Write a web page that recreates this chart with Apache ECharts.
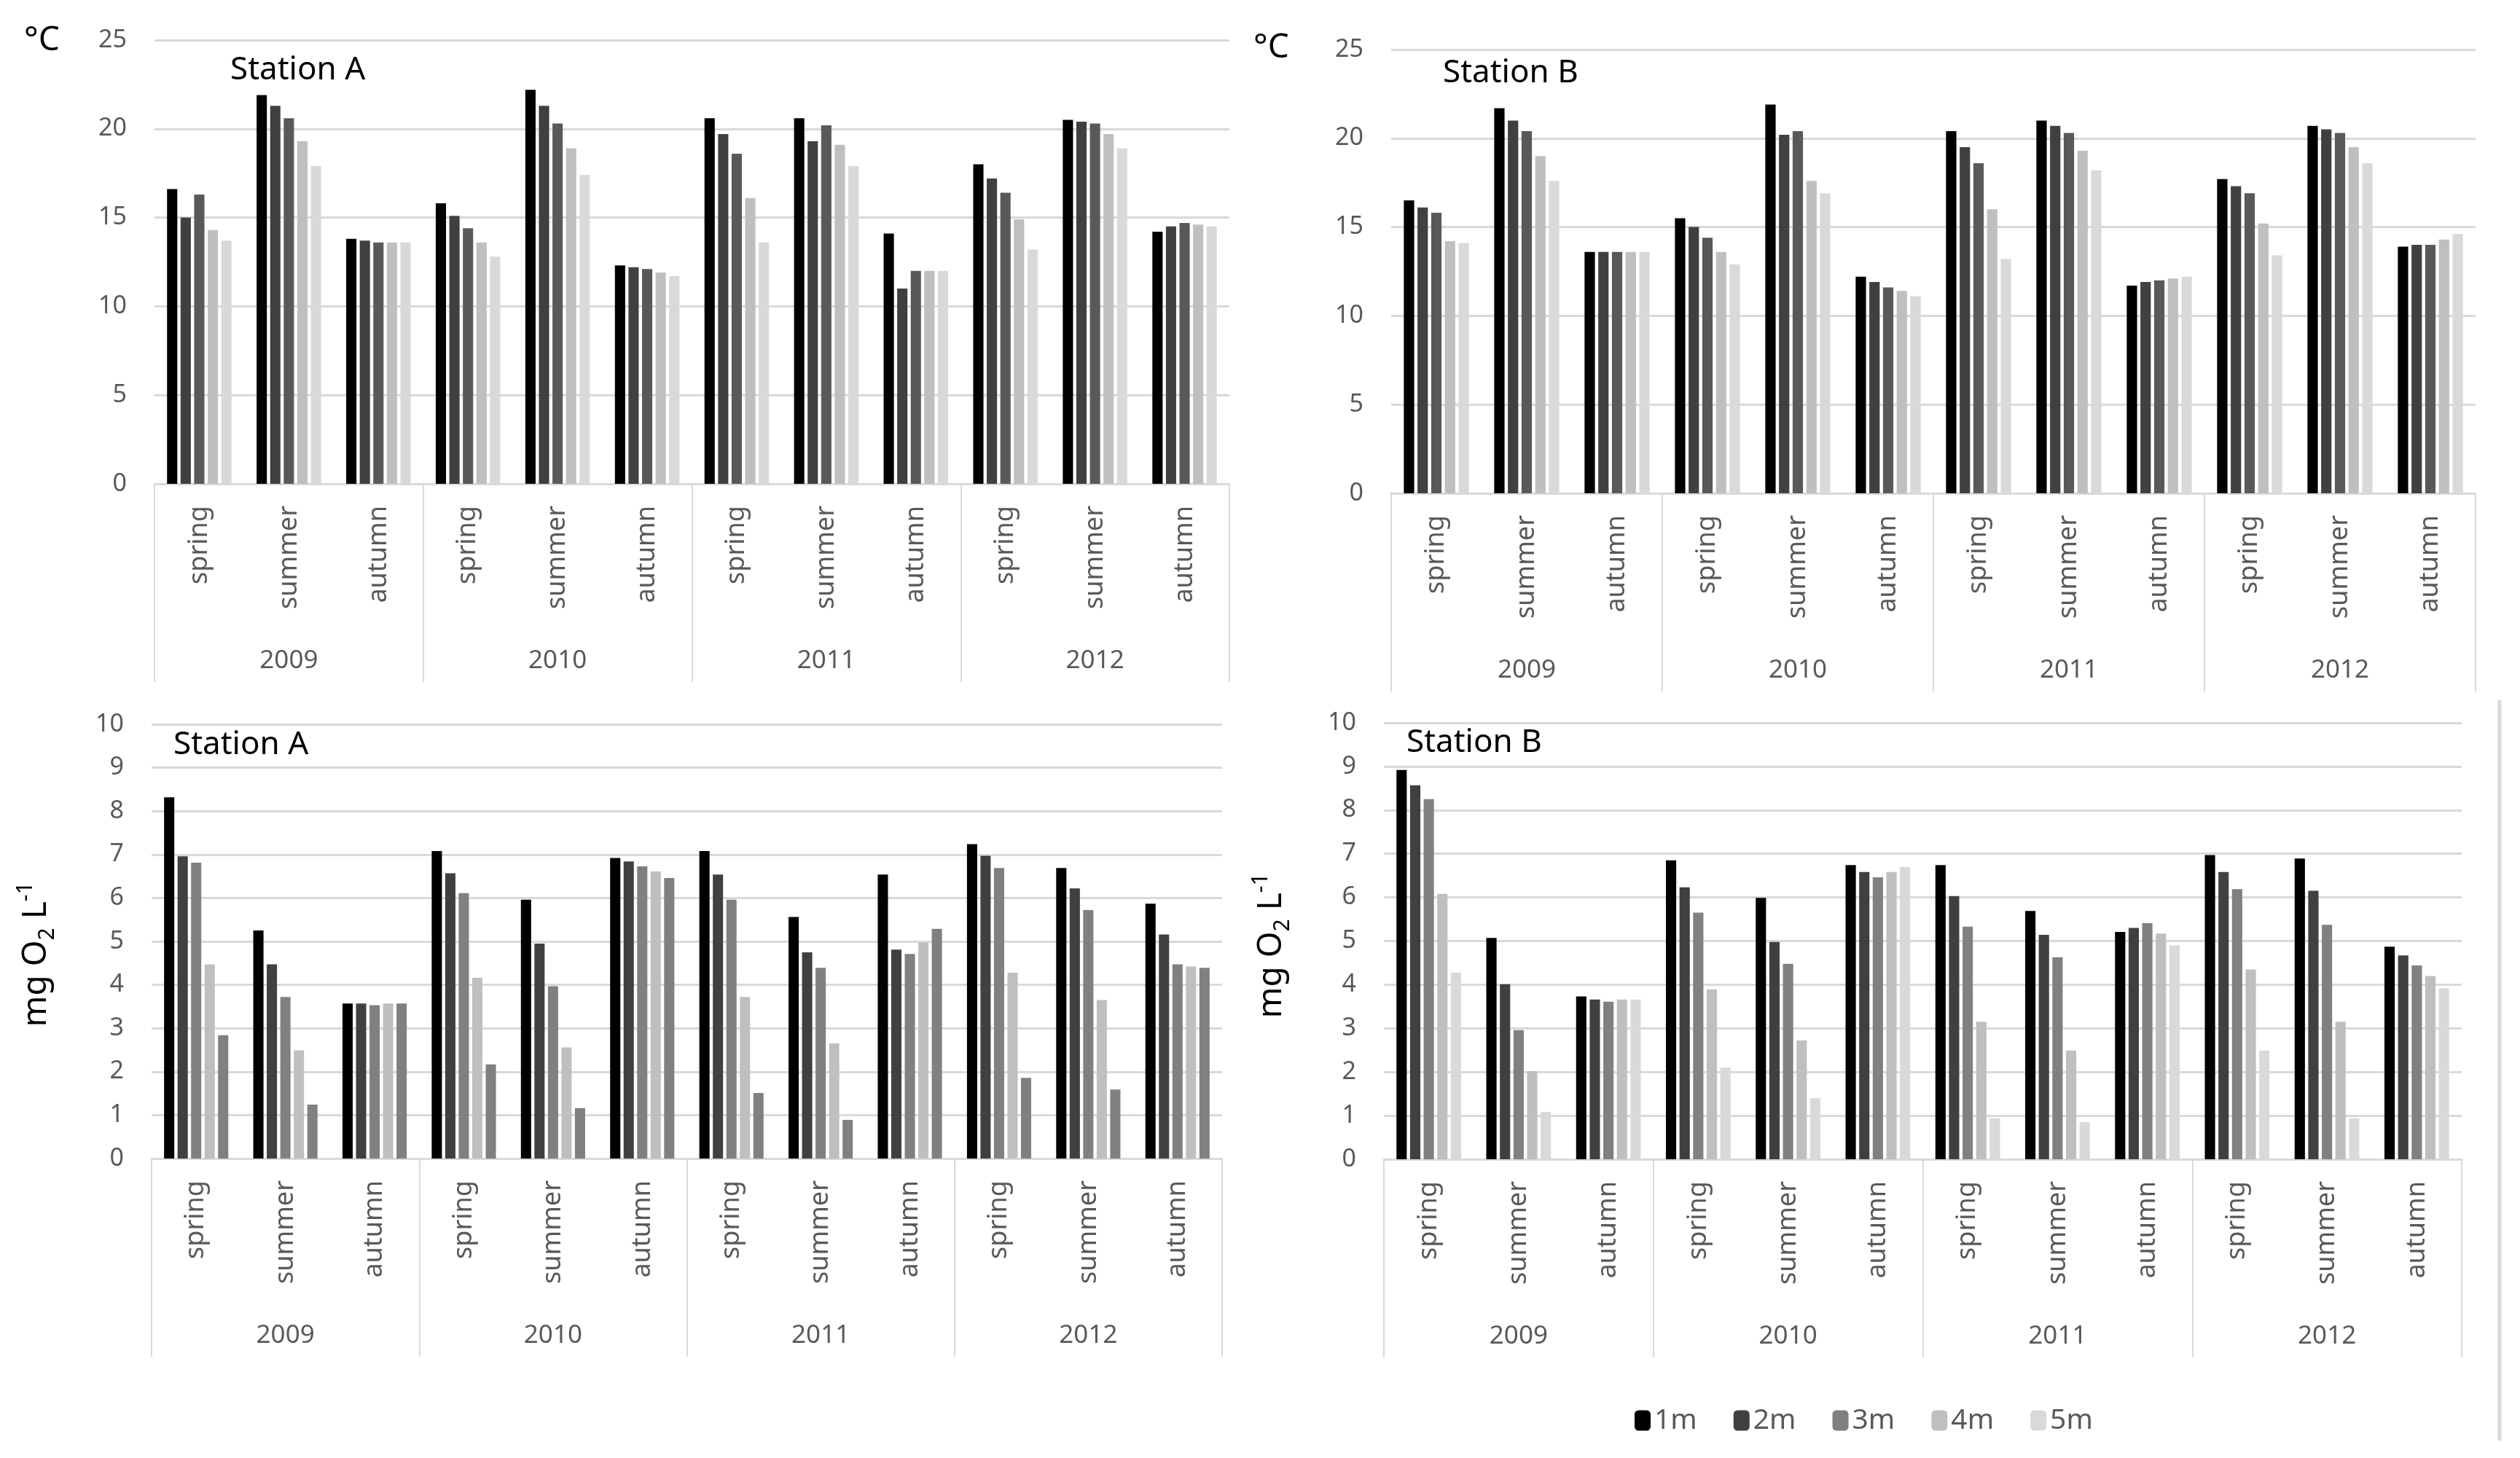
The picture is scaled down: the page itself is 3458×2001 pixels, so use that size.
<!DOCTYPE html>
<html>
<head>
<meta charset="utf-8">
<script src="https://cdn.jsdelivr.net/npm/echarts@6/dist/echarts.min.js"></script>
<style>
html,body{margin:0;padding:0;background:#fff;}
#chart{width:3458px;height:2001px;}
</style>
</head>
<body>
<div id="chart"></div>
<script>
// ---------- data ----------
const seasons = ['spring','summer','autumn','spring','summer','autumn','spring','summer','autumn','spring','summer','autumn'];
const years = ['2009','2010','2011','2012'];
const depths = ['1m','2m','3m','4m','5m'];
const tempTicks = [0,5,10,15,20,25];
const doTicks = [0,1,2,3,4,5,6,7,8,9,10];

// Temperature, Station A (°C)
const tempA_1m = [16.6, 21.9, 13.8, 15.8, 22.2, 12.3, 20.6, 20.6, 14.1, 18.0, 20.5, 14.2];
const tempA_2m = [15.0, 21.3, 13.7, 15.1, 21.3, 12.2, 19.7, 19.3, 11.0, 17.2, 20.4, 14.5];
const tempA_3m = [16.3, 20.6, 13.6, 14.4, 20.3, 12.1, 18.6, 20.2, 12.0, 16.4, 20.3, 14.7];
const tempA_4m = [14.3, 19.3, 13.6, 13.6, 18.9, 11.9, 16.1, 19.1, 12.0, 14.9, 19.7, 14.6];
const tempA_5m = [13.7, 17.9, 13.6, 12.8, 17.4, 11.7, 13.6, 17.9, 12.0, 13.2, 18.9, 14.5];

// Temperature, Station B (°C)
const tempB_1m = [16.5, 21.7, 13.6, 15.5, 21.9, 12.2, 20.4, 21.0, 11.7, 17.7, 20.7, 13.9];
const tempB_2m = [16.1, 21.0, 13.6, 15.0, 20.2, 11.9, 19.5, 20.7, 11.9, 17.3, 20.5, 14.0];
const tempB_3m = [15.8, 20.4, 13.6, 14.4, 20.4, 11.6, 18.6, 20.3, 12.0, 16.9, 20.3, 14.0];
const tempB_4m = [14.2, 19.0, 13.6, 13.6, 17.6, 11.4, 16.0, 19.3, 12.1, 15.2, 19.5, 14.3];
const tempB_5m = [14.1, 17.6, 13.6, 12.9, 16.9, 11.1, 13.2, 18.2, 12.2, 13.4, 18.6, 14.6];

// Dissolved oxygen, Station A (mg O2 L-1)
const doA_1m = [8.32, 5.25, 3.57, 7.08, 5.96, 6.92, 7.08, 5.56, 6.54, 7.24, 6.69, 5.87];
const doA_2m = [6.96, 4.47, 3.57, 6.57, 4.95, 6.84, 6.54, 4.75, 4.81, 6.97, 6.22, 5.16];
const doA_3m = [6.81, 3.72, 3.53, 6.11, 3.97, 6.73, 5.96, 4.39, 4.71, 6.69, 5.72, 4.47];
const doA_4m = [4.47, 2.49, 3.57, 4.16, 2.56, 6.61, 3.72, 2.65, 4.97, 4.28, 3.65, 4.42];
const doA_5m = [2.84, 1.24, 3.57, 2.17, 1.16, 6.46, 1.51, 0.89, 5.29, 1.86, 1.59, 4.39];

// Dissolved oxygen, Station B (mg O2 L-1)
const doB_1m = [8.92, 5.07, 3.73, 6.85, 5.99, 6.74, 6.74, 5.69, 5.21, 6.97, 6.89, 4.87];
const doB_2m = [8.57, 4.01, 3.66, 6.23, 4.98, 6.58, 6.03, 5.14, 5.30, 6.58, 6.15, 4.67];
const doB_3m = [8.25, 2.96, 3.61, 5.65, 4.48, 6.46, 5.33, 4.63, 5.41, 6.19, 5.37, 4.44];
const doB_4m = [6.08, 2.02, 3.66, 3.89, 2.72, 6.58, 3.15, 2.49, 5.17, 4.35, 3.15, 4.20];
const doB_5m = [4.28, 1.08, 3.66, 2.10, 1.40, 6.70, 0.94, 0.85, 4.90, 2.49, 0.94, 3.92];

// ---------- styling ----------
const FONT = 'Noto Sans';
const GRID_C = '#d9d9d9';
const LABEL_C = '#595959';
const colorsTemp = ['#000000','#404040','#595959','#bfbfbf','#d9d9d9'];
const colorsDoA  = ['#000000','#404040','#808080','#bfbfbf','#808080'];
const colorsDoB  = ['#000000','#404040','#808080','#bfbfbf','#d9d9d9'];
const legendColors = ['#000000','#404040','#808080','#bfbfbf','#d9d9d9'];

const panels = [
  {grid:{left:212, top:55, width:1475, height:609}, data:[tempA_1m,tempA_2m,tempA_3m,tempA_4m,tempA_5m], colors:colorsTemp, ticks:tempTicks, interval:5},
  {grid:{left:1909, top:68, width:1488, height:609}, data:[tempB_1m,tempB_2m,tempB_3m,tempB_4m,tempB_5m], colors:colorsTemp, ticks:tempTicks, interval:5},
  {grid:{left:208, top:994, width:1469, height:596}, data:[doA_1m,doA_2m,doA_3m,doA_4m,doA_5m], colors:colorsDoA, ticks:doTicks, interval:1},
  {grid:{left:1899, top:992, width:1479, height:599}, data:[doB_1m,doB_2m,doB_3m,doB_4m,doB_5m], colors:colorsDoB, ticks:doTicks, interval:1}
];

const grids = [], xAxes = [], yAxes = [], series = [];
panels.forEach((p, gi) => {
  grids.push(Object.assign({containLabel:false}, p.grid));
  xAxes.push({
    type:'category', gridIndex:gi, data:seasons, position:'bottom',
    axisLine:{show:true, lineStyle:{color:GRID_C, width:3}},
    axisTick:{show:false},
    axisLabel:{interval:0, rotate:90, margin:30, fontSize:36, color:LABEL_C, fontFamily:FONT}
  });
  xAxes.push({
    type:'category', gridIndex:gi, data:years, position:'bottom',
    axisLine:{show:false},
    axisTick:{show:true, length:272, lineStyle:{color:GRID_C, width:2}},
    axisLabel:{interval:0, margin:226, fontSize:35, color:LABEL_C, fontFamily:FONT}
  });
  yAxes.push({
    type:'value', gridIndex:gi, min:p.ticks[0], max:p.ticks[p.ticks.length-1], interval:p.interval,
    axisLine:{show:false}, axisTick:{show:false},
    splitLine:{show:true, lineStyle:{color:GRID_C, width:3}},
    axisLabel:{fontSize:34, color:LABEL_C, fontFamily:FONT, margin:38}
  });
  depths.forEach((d, di) => {
    series.push({
      type:'bar', name:d, xAxisIndex:gi*2, yAxisIndex:gi, data:p.data[di],
      itemStyle:{color:p.colors[di]},
      barGap:'32%', barCategoryGap:'28%',
      emphasis:{disabled:true}
    });
  });
});

function txt(x, y, text, size, opts) {
  return Object.assign({
    type:'text', x:x, y:y,
    style:{text:text, fontSize:size, fontFamily:FONT, fill:'#000', textVerticalAlign:'middle', textAlign:'left'}
  }, opts || {});
}

const unitRich = {
  m:{fontSize:46, fontFamily:FONT, fill:'#000', lineHeight:60, verticalAlign:'middle'},
  sub:{fontSize:30, fontFamily:FONT, fill:'#000', lineHeight:60, verticalAlign:'bottom'},
  sup:{fontSize:30, fontFamily:FONT, fill:'#000', lineHeight:60, verticalAlign:'top'}
};
const unitText = '{m|mg O}{sub|2}{m| L}{sup|-1}';

const graphics = [
  txt(33, 56, '°C', 46),
  txt(1720, 66, '°C', 46),
  txt(316, 96, 'Station A', 44),
  txt(1980, 100, 'Station B', 44),
  txt(238, 1022, 'Station A', 44),
  txt(1930, 1019, 'Station B', 44),
  {type:'text', x:50, y:1310, rotation:Math.PI/2,
   style:{text:unitText, rich:unitRich, textAlign:'center', textVerticalAlign:'middle'}},
  {type:'text', x:1745, y:1298, rotation:Math.PI/2,
   style:{text:unitText, rich:unitRich, textAlign:'center', textVerticalAlign:'middle'}},
  {type:'line', shape:{x1:3430, y1:961, x2:3430, y2:1977}, style:{stroke:GRID_C, lineWidth:5}}
];

const chart = echarts.init(document.getElementById('chart'), null, {renderer:'canvas'});
chart.setOption({
  animation:false,
  backgroundColor:'#ffffff',
  grid:grids, xAxis:xAxes, yAxis:yAxes, series:series,
  legend:{
    left:2238, top:1925, itemWidth:22, itemHeight:28, itemGap:50,
    textStyle:{fontSize:39, color:LABEL_C, fontFamily:FONT},
    data: depths.map((d,i)=>({name:d, itemStyle:{color:legendColors[i]}}))
  },
  graphic:graphics
});
</script>
</body>
</html>
